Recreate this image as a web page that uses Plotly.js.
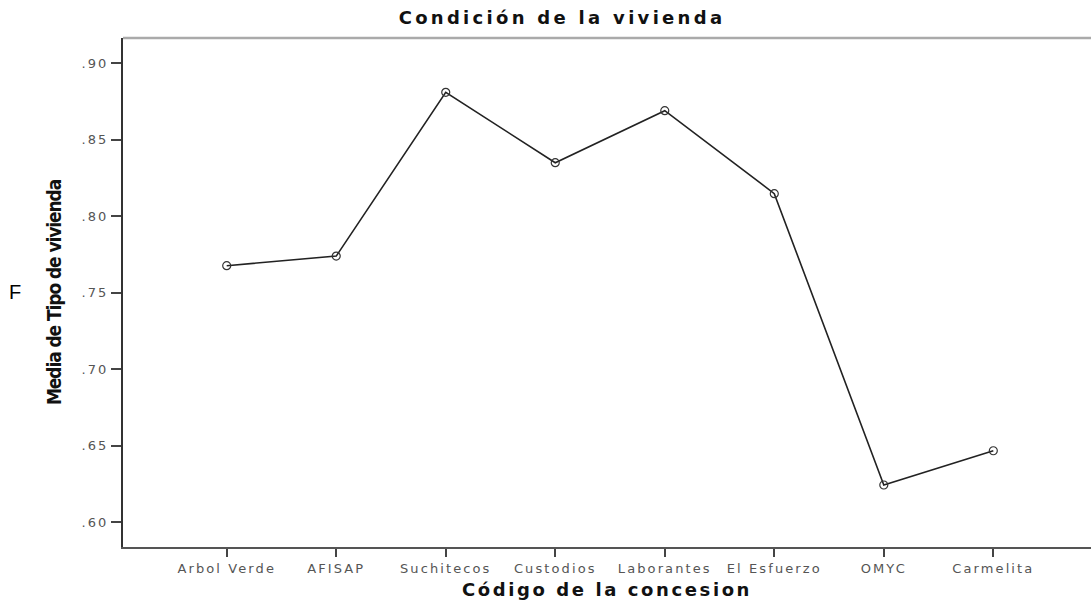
<!DOCTYPE html>
<html>
<head>
<meta charset="utf-8">
<script src="https://cdn.plot.ly/plotly-3.0.1.min.js"></script>
<style>
  body { margin: 0; background: #fff; }
  .xtick text, .ytick text { letter-spacing: 2.1px; }
  .gtitle { letter-spacing: 3.3px; }
  .g-xtitle text { letter-spacing: 2.6px; }
  .g-ytitle text { letter-spacing: -1.1px; }
</style>
</head>
<body>
<div id="graph"></div>
<script>
const concesiones = [
  "Arbol Verde", "AFISAP", "Suchitecos", "Custodios",
  "Laborantes", "El Esfuerzo", "OMYC", "Carmelita",
];

const media_vivienda = [0.7677, 0.774, 0.881, 0.835, 0.869, 0.8148, 0.6244, 0.6468];

const y_tick_vals = [0.6, 0.65, 0.7, 0.75, 0.8, 0.85, 0.9];
const y_tick_text = [".60", ".65", ".70", ".75", ".80", ".85", ".90"];

const trace = {
  x: concesiones,
  y: media_vivienda,
  type: "scatter",
  mode: "lines+markers",
  line: { color: "#222", width: 1.6 },
  marker: {
    symbol: "circle-open",
    size: 8,
    color: "#333",
    line: { width: 1.2, color: "#333" },
  },
  hoverinfo: "x+y",
};

const tick_font = { family: "DejaVu Sans", size: 13, color: "#555" };

const layout = {
  width: 1091,
  height: 605,
  margin: { l: 123, r: 0, t: 38, b: 58 },
  paper_bgcolor: "#fff",
  plot_bgcolor: "#fff",
  showlegend: false,
  title: {
    text: "<b>Condición de la vivienda</b>",
    font: { family: "DejaVu Sans", size: 18, color: "#111" },
    x: 562 / 1091,
    xanchor: "center",
    y: 1 - 18 / 605,
    yanchor: "middle",
  },
  xaxis: {
    type: "category",
    range: [-0.947, 7.892],
    showgrid: false,
    zeroline: false,
    showline: true,
    linecolor: "#555",
    linewidth: 2,
    ticks: "outside",
    ticklen: 8,
    tickwidth: 2,
    tickcolor: "#444",
    tickfont: tick_font,
    title: {
      text: "<b>Código de la concesion</b>",
      font: { family: "DejaVu Sans", size: 18, color: "#111" },
      standoff: 9,
    },
  },
  yaxis: {
    range: [0.5839, 0.9165],
    tickvals: y_tick_vals,
    ticktext: y_tick_text,
    showgrid: false,
    zeroline: false,
    showline: true,
    linecolor: "#333",
    linewidth: 2,
    ticks: "outside",
    ticklen: 10,
    tickwidth: 2,
    tickcolor: "#444",
    tickfont: tick_font,
    title: {
      text: "<b>Media de Tipo de vivienda</b>",
      font: { family: "DejaVu Sans Condensed, sans-serif", size: 19, color: "#111" },
      standoff: 15,
    },
  },
  shapes: [
    {
      type: "line",
      xref: "paper",
      yref: "paper",
      x0: 0,
      x1: 1,
      y0: 1,
      y1: 1,
      line: { color: "#aaa", width: 2.5 },
    },
  ],
  annotations: [
    {
      text: "F",
      xref: "paper",
      yref: "paper",
      x: (15 - 123) / 968,
      y: (547 - 292) / 509,
      xanchor: "center",
      yanchor: "middle",
      showarrow: false,
      font: { family: "Liberation Sans", size: 20, color: "#000" },
    },
  ],
};

Plotly.newPlot("graph", [trace], layout, { displayModeBar: false, staticPlot: true });
</script>
</body>
</html>
